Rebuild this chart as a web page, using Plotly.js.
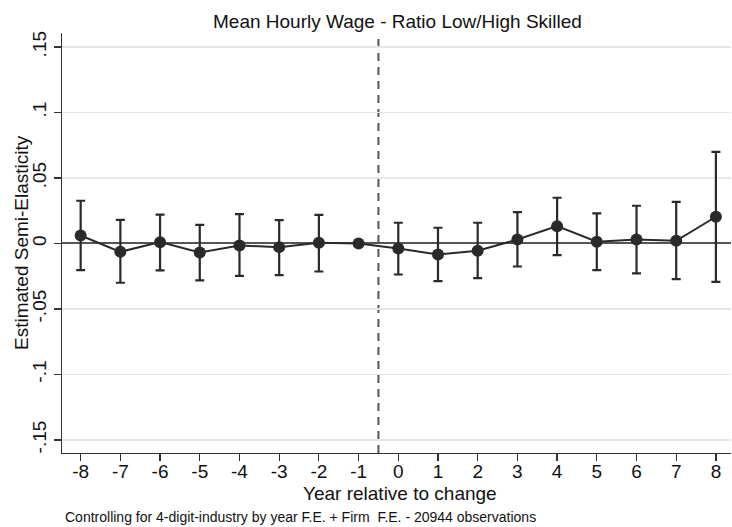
<!DOCTYPE html>
<html>
<head>
<meta charset="utf-8">
<script src="https://cdn.plot.ly/plotly-3.0.1.min.js"></script>
<style>html,body{margin:0;padding:0;background:#fff;}#chart{width:732px;height:527px;}</style>
</head>
<body>
<div id="chart"></div>
<script>
var years = [-8,-7,-6,-5,-4,-3,-2,-1,0,1,2,3,4,5,6,7,8];
var estimate = [0.0061,-0.0064,0.0010,-0.0069,-0.0015,-0.0028,0.0005,0.0000,-0.0038,-0.0084,-0.0056,0.0030,0.0132,0.0013,0.0030,0.0020,0.0204];
var ciUpper = [0.0326,0.0180,0.0220,0.0142,0.0224,0.0178,0.0219,0.0000,0.0158,0.0120,0.0158,0.0239,0.0349,0.0229,0.0288,0.0318,0.0700];
var ciLower = [-0.0204,-0.0300,-0.0206,-0.0282,-0.0247,-0.0242,-0.0214,0.0000,-0.0237,-0.0288,-0.0265,-0.0176,-0.0089,-0.0204,-0.0229,-0.0272,-0.0293];
var yTickVals = [-0.15,-0.1,-0.05,0,0.05,0.1,0.15];
var yTickText = ["-.15","-.1","-.05","0",".05",".1",".15"];
var xTickVals = years;
var xTickText = years.map(String);

var errPlus = estimate.map(function(v,i){return ciUpper[i]-v;});
var errMinus = estimate.map(function(v,i){return v-ciLower[i];});

var FONT = "'Liberation Sans', Arial, sans-serif";
var DARK = '#2a2a2a';
var TXT = '#111';

var trace = {
  x: years, y: estimate, type: 'scatter', mode: 'lines+markers',
  line: {color: DARK, width: 2},
  marker: {color: DARK, size: 12},
  error_y: {type: 'data', symmetric: false, array: errPlus, arrayminus: errMinus,
            color: DARK, thickness: 2.2, width: 4.5},
  hoverinfo: 'skip', showlegend: false
};

var layout = {
  width: 732, height: 527,
  margin: {l: 62, r: 1, t: 33, b: 74},
  paper_bgcolor: '#fff', plot_bgcolor: '#fff',
  font: {family: FONT, color: TXT},
  xaxis: {
    range: [-8.47, 8.38], tickvals: xTickVals, ticktext: xTickText,
    ticks: 'outside', ticklen: 7, tickwidth: 1.2, tickcolor: '#333',
    showline: true, linecolor: '#333', linewidth: 1.2, showgrid: false, zeroline: false,
    ticklabelstandoff: -6,
    tickfont: {size: 19, family: FONT, color: TXT}
  },
  yaxis: {
    range: [-0.16, 0.1607], tickvals: yTickVals, ticktext: yTickText, tickangle: -90,
    ticks: 'outside', ticklen: 7, tickwidth: 1.2, tickcolor: '#333',
    showline: true, linecolor: '#333', linewidth: 1.2,
    showgrid: true, gridcolor: '#e6e6e6', gridwidth: 1.2,
    zeroline: true, zerolinecolor: '#555', zerolinewidth: 2,
    tickfont: {size: 19, family: FONT, color: TXT}
  },
  shapes: [{type: 'line', xref: 'x', yref: 'paper', x0: -0.5, x1: -0.5, y0: 0, y1: 1,
            line: {color: '#555', width: 2, dash: '8px,6px'}, layer: 'below'}],
  annotations: [
    {text: 'Mean Hourly Wage - Ratio Low/High Skilled', xref: 'paper', yref: 'paper',
     x: (397-62)/669, y: 1 + (33-21)/420, xanchor: 'center', yanchor: 'middle', showarrow: false,
     font: {size: 19, family: FONT, color: TXT}},
    {text: 'Year relative to change', xref: 'paper', yref: 'paper',
     x: (400-62)/669, y: (453-493)/420, xanchor: 'center', yanchor: 'middle', showarrow: false,
     font: {size: 19, family: FONT, color: TXT}},
    {text: 'Estimated Semi-Elasticity', xref: 'paper', yref: 'paper', textangle: -90,
     x: (21-62)/669, y: 0.5, xanchor: 'center', yanchor: 'middle', showarrow: false,
     font: {size: 19, family: FONT, color: TXT}},
    {text: 'Controlling for 4-digit-industry by year F.E. + Firm  F.E. - 20944 observations', xref: 'paper', yref: 'paper',
     x: (63-62)/669, y: (453-517)/420, xanchor: 'left', yanchor: 'middle', showarrow: false,
     font: {size: 14, family: FONT, color: TXT}}
  ]
};

Plotly.newPlot('chart', [trace], layout, {staticPlot: true, displayModeBar: false});
</script>
</body>
</html>
